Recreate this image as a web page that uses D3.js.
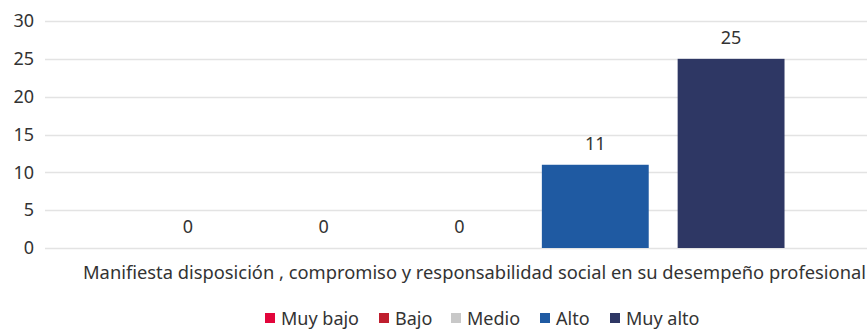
<!DOCTYPE html>
<html><head><meta charset="utf-8">
<script src="https://cdn.jsdelivr.net/npm/d3@7"></script>
<style>
html,body{margin:0;padding:0;background:#fff;}
svg{display:block;font-family:"Noto Sans",sans-serif;}
</style></head>
<body>
<svg id="chart" width="867" height="329"></svg>
<script>
const category = "Manifiesta disposición , compromiso y responsabilidad social en su desempeño profesional";
const seriesNames = ["Muy bajo", "Bajo", "Medio", "Alto", "Muy alto"];
const seriesValues = [0, 0, 0, 11, 25];
const seriesColors = ["#E2063B", "#BF1E2E", "#C8C8C8", "#1F5AA2", "#2E3764"];
const yTicks = [0, 5, 10, 15, 20, 25, 30];

const svg = d3.select("#chart");
const textColor = "#333333";
const fs = 18;

const y = d3.scaleLinear().domain([0, 30]).range([248, 21]);
const x = d3.scaleBand().domain(seriesNames).range([45, 874]).paddingInner(0.213).paddingOuter(0.659);

// gridlines
svg.append("g").selectAll("line").data(yTicks).join("line")
  .attr("x1", 45).attr("x2", 867)
  .attr("y1", d => Math.round(y(d)) + 0.5).attr("y2", d => Math.round(y(d)) + 0.5)
  .attr("stroke", "#E3E3E3").attr("stroke-width", 1.5);

// y axis labels
const yAxis = d3.axisLeft(y).tickValues(yTicks).tickSize(0).tickPadding(0);
const yg = svg.append("g").attr("transform", "translate(34,0)").call(yAxis);
yg.select(".domain").remove();
yg.selectAll("text").attr("font-size", fs).attr("fill", textColor).attr("font-family", "Noto Sans");

// bars
const data = seriesNames.map((n, i) => ({name: n, value: seriesValues[i], color: seriesColors[i]}));
svg.append("g").selectAll("rect").data(data).join("rect")
  .attr("x", d => x(d.name)).attr("width", x.bandwidth())
  .attr("y", d => y(d.value)).attr("height", d => y(0) - y(d.value))
  .attr("fill", d => d.color);

// value labels
svg.append("g").selectAll("text").data(data).join("text")
  .attr("x", d => x(d.name) + x.bandwidth() / 2)
  .attr("y", d => y(d.value) - 15)
  .attr("text-anchor", "middle").attr("font-size", fs).attr("fill", textColor)
  .text(d => d.value);

// category label
svg.append("text").attr("x", 474.5).attr("y", 279).attr("text-anchor", "middle")
  .attr("font-size", fs).attr("fill", textColor)
  .attr("textLength", 783).attr("lengthAdjust", "spacingAndGlyphs")
  .text(category);

// legend
const legendX = [265, 379, 451, 540, 610];
const lg = svg.append("g").selectAll("g").data(data).join("g")
  .attr("transform", (d, i) => `translate(${legendX[i]},313)`);
lg.append("rect").attr("width", 10).attr("height", 10).attr("fill", d => d.color);
lg.append("text").attr("x", 16).attr("y", 12).attr("font-size", fs).attr("fill", textColor)
  .text(d => d.name);
</script>
</body></html>
